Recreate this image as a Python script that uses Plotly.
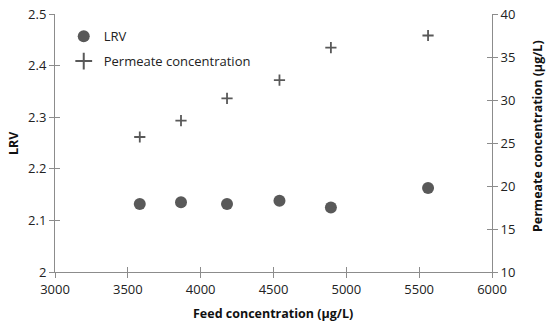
import plotly.graph_objects as go

feed = [3582, 3865, 4181, 4541, 4894, 5561]
lrv = [2.132, 2.135, 2.132, 2.138, 2.125, 2.163]
permeate = [25.7, 27.6, 30.2, 32.3, 36.1, 37.5]

x_ticks = [3000, 3500, 4000, 4500, 5000, 5500, 6000]
y_ticks = [2, 2.1, 2.2, 2.3, 2.4, 2.5]
y2_ticks = [10, 15, 20, 25, 30, 35, 40]

axc = "#8c8c8c"
mc = "#595959"
font = "Open Sans, Liberation Sans, sans-serif"

fig = go.Figure()
fig.add_trace(go.Scatter(x=feed, y=lrv, mode="markers", name="LRV", legendgroup="a",
                         marker=dict(symbol="circle", size=12, color=mc)))
fig.add_trace(go.Scatter(x=feed, y=permeate, mode="markers", name="Permeate concentration",
                         yaxis="y2", legendgroup="b",
                         marker=dict(symbol="cross-thin", size=8, color=mc,
                                     line=dict(width=1.8, color=mc))))
# invisible helper traces to activate inside-tick overlay axes (cross ticks)
fig.add_trace(go.Scatter(x=feed, y=lrv, xaxis="x2", yaxis="y3", mode="markers",
                         marker=dict(opacity=0), showlegend=False, hoverinfo="skip"))
fig.add_trace(go.Scatter(x=feed, y=permeate, xaxis="x2", yaxis="y4", mode="markers",
                         marker=dict(opacity=0), showlegend=False, hoverinfo="skip"))

common = dict(showgrid=False, zeroline=False, showline=True, linecolor=axc, linewidth=1,
              ticks="outside", ticklen=5, tickcolor=axc, automargin=False,
              tickfont=dict(size=13, color="#222", family=font))
inner = dict(showticklabels=False, showgrid=False, zeroline=False, showline=False,
             ticks="inside", ticklen=5, tickcolor=axc, automargin=False)

title_font = dict(size=12.5, family=font, color="#111")

fig.update_layout(
    width=550, height=327,
    margin=dict(l=55, r=58, t=14, b=55, autoexpand=False),
    paper_bgcolor="white", plot_bgcolor="white",
    font=dict(family=font, color="#222"),
    showlegend=True,
    legend=dict(x=0.02, y=0.972, xanchor="left", yanchor="top", bgcolor="rgba(0,0,0,0)",
                font=dict(size=13, family=font, color="#222"), tracegroupgap=5,
                itemsizing="constant"),
    xaxis=dict(range=[3000, 6000], tickvals=x_ticks, **common),
    yaxis=dict(range=[2, 2.5], tickvals=y_ticks, **common),
    yaxis2=dict(range=[10, 40], tickvals=y2_ticks, overlaying="y", side="right", anchor="x", **common),
    xaxis2=dict(range=[3000, 6000], tickvals=x_ticks, overlaying="x", anchor="y", side="bottom", **inner),
    yaxis3=dict(range=[2, 2.5], tickvals=y_ticks, overlaying="y", anchor="x", side="left", **inner),
    yaxis4=dict(range=[10, 40], tickvals=y2_ticks, overlaying="y", anchor="x", side="right", **inner),
    annotations=[
        dict(text="<b>Feed concentration (μg/L)</b>", xref="paper", yref="paper",
             x=0.498, y=-0.16, xanchor="center", yanchor="middle", showarrow=False, font=title_font),
        dict(text="<b>LRV</b>", xref="paper", yref="paper", textangle=-90,
             x=-0.096, y=0.5, xanchor="center", yanchor="middle", showarrow=False, font=title_font),
        dict(text="<b>Permeate concentration (μg/L)</b>", xref="paper", yref="paper", textangle=-90,
             x=1.103, y=0.527, xanchor="center", yanchor="middle", showarrow=False, font=title_font),
    ],
)

fig.write_html("out.html", config={"displayModeBar": False},
               post_script="document.body.style.margin='0';")
